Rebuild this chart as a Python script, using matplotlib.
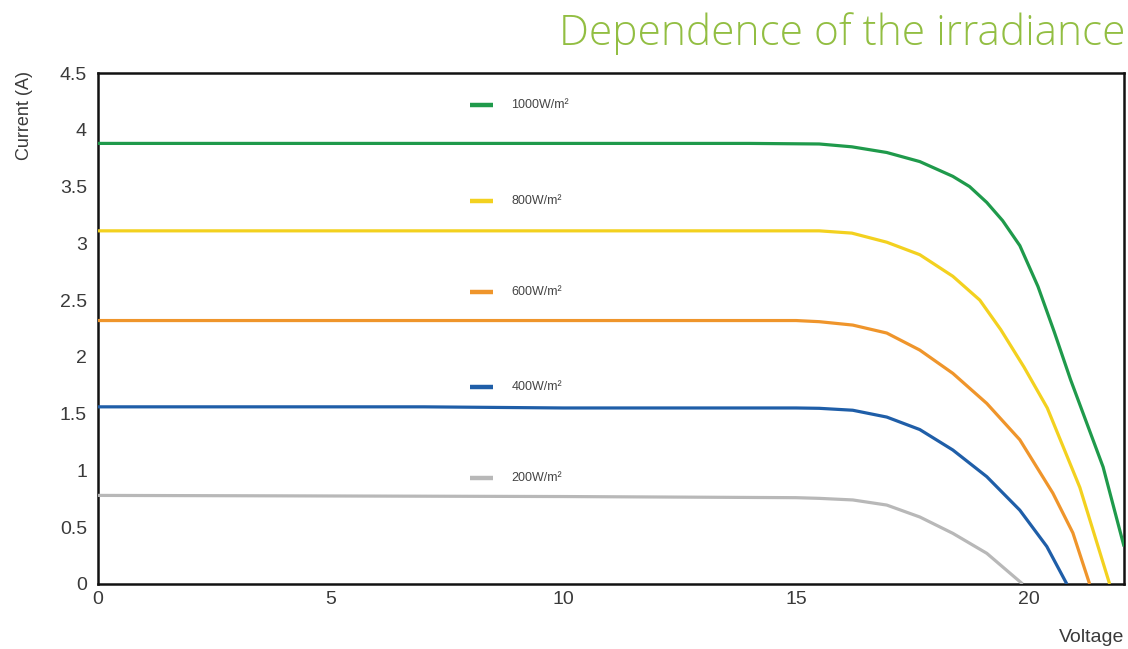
import matplotlib
matplotlib.use("Agg")
import matplotlib.pyplot as plt

# I-V curves (voltage [V], current [A])
labels = ["1000W/m²", "800W/m²", "600W/m²", "400W/m²", "200W/m²"]
colors = ["#1f9a4b", "#f3d11f", "#ef952b", "#1f5ea8", "#b8b8b8"]

v_1000 = [0, 5, 10, 14, 15.5, 16.2, 16.95, 17.66, 18.37, 18.73, 19.1, 19.44, 19.81, 20.2, 20.55, 20.9, 21.6, 22.05]
i_1000 = [3.88, 3.88, 3.88, 3.88, 3.875, 3.85, 3.80, 3.72, 3.59, 3.50, 3.36, 3.20, 2.98, 2.62, 2.22, 1.80, 1.03, 0.33]

v_800 = [0, 10, 15, 15.5, 16.2, 16.95, 17.66, 18.37, 18.95, 19.4, 19.9, 20.4, 21.1, 21.74]
i_800 = [3.11, 3.11, 3.11, 3.11, 3.09, 3.01, 2.90, 2.71, 2.50, 2.24, 1.91, 1.55, 0.85, 0.0]

v_600 = [0, 10, 15, 15.5, 16.22, 16.95, 17.66, 18.37, 19.1, 19.81, 20.52, 20.95, 21.31]
i_600 = [2.32, 2.32, 2.32, 2.31, 2.28, 2.21, 2.06, 1.855, 1.59, 1.27, 0.80, 0.45, 0.0]

v_400 = [0, 7, 10, 15, 15.5, 16.22, 16.95, 17.66, 18.37, 19.1, 19.81, 20.39, 20.82]
i_400 = [1.56, 1.56, 1.55, 1.55, 1.547, 1.53, 1.47, 1.36, 1.18, 0.945, 0.65, 0.33, 0.0]

v_200 = [0, 5, 10, 15, 15.5, 16.22, 16.95, 17.66, 18.37, 19.1, 19.87]
i_200 = [0.78, 0.775, 0.77, 0.76, 0.754, 0.74, 0.695, 0.59, 0.446, 0.27, 0.0]

curves = [(v_1000, i_1000), (v_800, i_800), (v_600, i_600), (v_400, i_400), (v_200, i_200)]
legend_y = [0.937, 0.750, 0.571, 0.386, 0.207]

x_ticks = [0, 5, 10, 15, 20]
y_ticks = [0, 0.5, 1, 1.5, 2, 2.5, 3, 3.5, 4, 4.5]
y_tick_labels = ['0', '0.5', '1', '1.5', '2', '2.5', '3', '3.5', '4', '4.5']

plt.rcParams['font.family'] = ['Liberation Sans', 'DejaVu Sans']

fig = plt.figure(figsize=(11.28, 6.49), dpi=100)
ax = fig.add_axes([0.0869, 0.1002, 0.9096, 0.7873])

for (v, i), c in zip(curves, colors):
    ax.plot(v, i, color=c, linewidth=2.3, solid_capstyle='butt',
            solid_joinstyle='round', zorder=3)

# hand-placed legend entries inside the plot
for lab, c, yy in zip(labels, colors, legend_y):
    ax.plot([0.363, 0.385], [yy, yy], color=c, linewidth=3.2,
            transform=ax.transAxes, solid_capstyle='butt')
    ax.text(0.403, yy, lab, transform=ax.transAxes, fontsize=9,
            color='#444444', va='center', ha='left')

ax.set_xlim(0, 22.05)
ax.set_ylim(0, 4.5)
ax.set_xticks(x_ticks)
ax.set_yticks(y_ticks)
ax.set_xticklabels([str(t) for t in x_ticks])
ax.set_yticklabels(y_tick_labels)
ax.tick_params(length=0, labelsize=14, labelcolor='#3a3a3a', pad=8)
ax.tick_params(axis='x', pad=5)
for s in ax.spines.values():
    s.set_linewidth(1.8)
    s.set_color('#111111')

fig.text(0.022, 0.822, 'Current (A)', rotation=90, fontsize=13,
         color='#3a3a3a', ha='center', va='center')
fig.text(0.997, 0.004, 'Voltage', fontsize=14, color='#3a3a3a',
         ha='right', va='bottom')
fig.text(0.998, 0.948, 'Dependence of the irradiance', fontsize=30.5,
         color='#92be42', ha='right', va='center',
         family=['Open Sans', 'Liberation Sans'], fontweight='light')

fig.savefig('out.png', dpi=100, facecolor='white')
